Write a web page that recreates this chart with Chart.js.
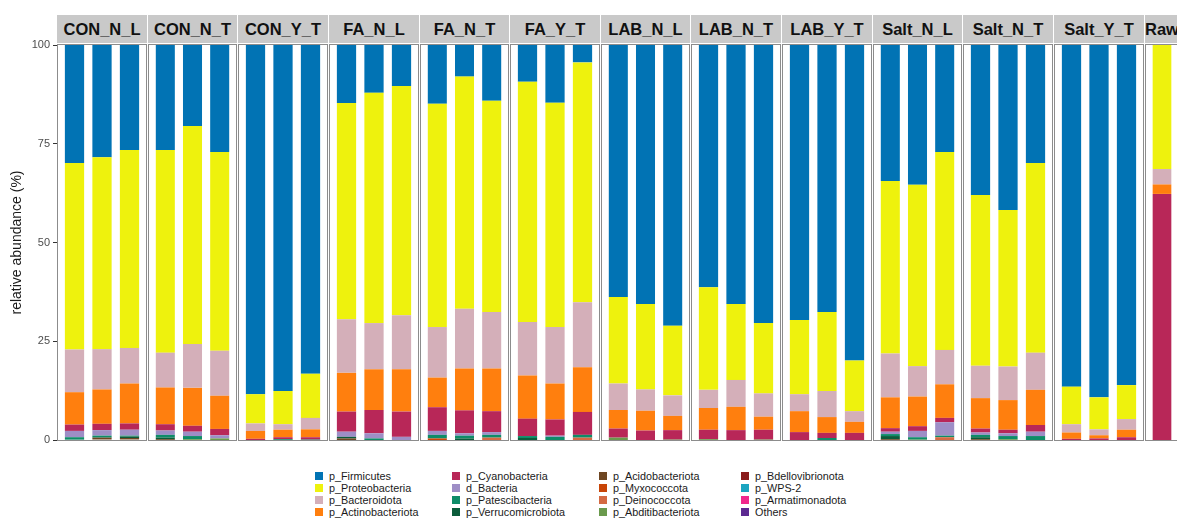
<!DOCTYPE html>
<html>
<head>
<meta charset="utf-8">
<script src="https://cdn.jsdelivr.net/npm/chart.js@4.4.1/dist/chart.umd.min.js"></script>
<style>
  html, body { margin: 0; padding: 0; background: #ffffff; }
  body { width: 1177px; height: 521px; overflow: hidden; position: relative;
         font-family: "Liberation Sans", Arial, Helvetica, sans-serif; }
  canvas { position: absolute; }
  .panel { position: absolute; box-sizing: border-box; border: 1px solid #8c8c8c; pointer-events: none; z-index: 2; }
  .strip { position: absolute; background: #c9c9c9; color: #111111; font-weight: bold;
           font-size: 16.5px; text-align: center; white-space: nowrap; overflow: visible;
           display: flex; align-items: center; justify-content: center; }
  .key { position: absolute; width: 8px; height: 8px; }
  .ktxt { position: absolute; font-size: 10.8px; color: #1a1a1a; white-space: nowrap; line-height: 12px; }
</style>
</head>
<body>
<script>
// Facets and samples, in plotting order
const facets = ["CON_N_L", "CON_N_T", "CON_Y_T", "FA_N_L", "FA_N_T", "FA_Y_T",
                "LAB_N_L", "LAB_N_T", "LAB_Y_T", "Salt_N_L", "Salt_N_T", "Salt_Y_T", "Raw"];
const samples = [
  "CON_N_L_1", "CON_N_L_2", "CON_N_L_3", "CON_N_T_1", "CON_N_T_2", "CON_N_T_3",
  "CON_Y_T_1", "CON_Y_T_2", "CON_Y_T_3", "FA_N_L_1", "FA_N_L_2", "FA_N_L_3",
  "FA_N_T_1", "FA_N_T_2", "FA_N_T_3", "FA_Y_T_1", "FA_Y_T_2", "FA_Y_T_3",
  "LAB_N_L_1", "LAB_N_L_2", "LAB_N_L_3", "LAB_N_T_1", "LAB_N_T_2", "LAB_N_T_3",
  "LAB_Y_T_1", "LAB_Y_T_2", "LAB_Y_T_3", "Salt_N_L_1", "Salt_N_L_2", "Salt_N_L_3",
  "Salt_N_T_1", "Salt_N_T_2", "Salt_N_T_3", "Salt_Y_T_1", "Salt_Y_T_2", "Salt_Y_T_3",
  "Raw_1"
];

// Relative abundance (%) per phylum, one value per sample
const firmicutes = [29.9, 28.4, 26.6, 26.6, 20.5, 27.1, 88.4, 87.6, 83.2, 14.7, 12.1, 10.4,
  14.9, 8.0, 14.1, 9.3, 14.6, 4.4, 63.8, 65.6, 71.1, 61.3, 65.6, 70.4, 69.6, 67.6, 79.9,
  34.4, 35.4, 27.1, 38.0, 41.8, 29.9, 86.5, 89.2, 86.1, 0];
const proteobacteria = [47.2, 48.6, 50.1, 51.3, 55.2, 50.3, 7.4, 8.4, 11.2, 54.7, 58.3, 58.0,
  56.5, 58.8, 53.5, 60.8, 56.8, 60.7, 21.9, 21.6, 17.6, 26.0, 19.2, 17.8, 18.8, 20.0, 12.8,
  43.7, 45.9, 50.1, 43.2, 39.6, 48.0, 9.5, 8.1, 8.6, 31.4];
const bacteroidota = [10.8, 10.2, 9.0, 8.8, 11.1, 11.4, 1.9, 1.4, 2.9, 13.6, 11.7, 13.7,
  12.8, 15.1, 14.3, 13.6, 14.3, 16.5, 6.7, 5.4, 5.2, 4.6, 6.8, 5.9, 4.3, 6.6, 2.7,
  11.1, 7.7, 8.7, 8.2, 8.5, 9.4, 2.1, 1.5, 2.7, 3.9];
const actinobacteriota = [8.2, 8.7, 10.1, 9.3, 9.6, 8.4, 2.0, 1.9, 2.0, 9.8, 10.3, 10.7,
  7.5, 10.6, 10.8, 10.9, 9.1, 11.3, 4.7, 5.0, 3.6, 5.5, 5.9, 3.3, 5.3, 4.0, 2.8,
  7.8, 7.5, 8.5, 7.7, 7.5, 8.9, 1.6, 0.8, 1.9, 2.4];
const cyanobacteria = [1.6, 1.6, 1.6, 1.6, 1.5, 1.6, 0.3, 0.5, 0.6, 5.1, 5.9, 6.4,
  6.0, 5.8, 5.3, 4.4, 4.1, 5.8, 2.3, 2.4, 2.4, 2.4, 2.5, 2.5, 2.0, 1.3, 1.8,
  0.9, 1.2, 1.1, 1.0, 0.9, 1.7, 0.3, 0.4, 0.7, 62.3];
const dBacteria = [1.6, 1.4, 1.5, 1.1, 1.1, 0.8, 0, 0, 0, 1.3, 1.3, 0.8,
  1.0, 0.6, 0.7, 0, 0.3, 0, 0, 0, 0, 0, 0, 0, 0, 0, 0,
  0.6, 1.6, 3.4, 0.6, 0.7, 1.1, 0, 0, 0, 0];
const patescibacteria = [0.6, 0.5, 0.2, 0.7, 0.8, 0, 0, 0.2, 0.1, 0, 0.4, 0,
  0.9, 0.7, 0.7, 0.5, 0.8, 0.7, 0, 0, 0, 0, 0, 0, 0, 0.5, 0,
  0.5, 0.6, 0.4, 0.6, 0.8, 1.0, 0, 0, 0, 0];
const verrucomicrobiota = [0.1, 0, 0.4, 0.4, 0, 0, 0, 0, 0, 0.4, 0, 0,
  0, 0.4, 0, 0.5, 0, 0, 0, 0, 0, 0, 0, 0, 0, 0, 0,
  0.8, 0, 0, 0.5, 0, 0, 0, 0, 0, 0];
const acidobacteriota = [0, 0.6, 0.5, 0.2, 0, 0, 0, 0, 0, 0.4, 0, 0,
  0, 0, 0, 0, 0, 0, 0, 0, 0, 0, 0, 0, 0, 0, 0,
  0.2, 0, 0, 0.2, 0, 0, 0, 0, 0, 0];
const myxococcota = [0, 0, 0, 0, 0, 0, 0, 0, 0, 0, 0, 0,
  0.4, 0, 0, 0, 0, 0, 0, 0, 0, 0, 0, 0, 0, 0, 0,
  0, 0, 0, 0, 0, 0, 0, 0, 0, 0];
const deinococcota = [0, 0, 0, 0, 0, 0, 0, 0, 0, 0, 0, 0,
  0, 0, 0.6, 0, 0, 0.6, 0, 0, 0, 0, 0, 0, 0, 0, 0,
  0, 0, 0.7, 0, 0, 0, 0, 0, 0, 0];
const abditibacteriota = [0, 0, 0, 0, 0.2, 0.4, 0, 0, 0, 0, 0, 0,
  0, 0, 0, 0, 0, 0, 0.6, 0, 0.1, 0.2, 0, 0.1, 0, 0, 0,
  0, 0.1, 0, 0, 0.2, 0, 0, 0, 0, 0];
const bdellovibrionota = [0, 0, 0, 0, 0, 0, 0, 0, 0, 0, 0, 0,
  0, 0, 0, 0, 0, 0, 0, 0, 0, 0, 0, 0, 0, 0, 0,
  0, 0, 0, 0, 0, 0, 0, 0, 0, 0];
const wps2 = [0, 0, 0, 0, 0, 0, 0, 0, 0, 0, 0, 0,
  0, 0, 0, 0, 0, 0, 0, 0, 0, 0, 0, 0, 0, 0, 0,
  0, 0, 0, 0, 0, 0, 0, 0, 0, 0];
const armatimonadota = [0, 0, 0, 0, 0, 0, 0, 0, 0, 0, 0, 0,
  0, 0, 0, 0, 0, 0, 0, 0, 0, 0, 0, 0, 0, 0, 0,
  0, 0, 0, 0, 0, 0, 0, 0, 0, 0];
const others = [0, 0, 0, 0, 0, 0, 0, 0, 0, 0, 0, 0,
  0, 0, 0, 0, 0, 0, 0, 0, 0, 0, 0, 0, 0, 0, 0,
  0, 0, 0, 0, 0, 0, 0, 0, 0, 0];

// Series in legend order (top of each stack first)
const seriesNames = ["p_Firmicutes", "p_Proteobacteria", "p_Bacteroidota", "p_Actinobacteriota",
  "p_Cyanobacteria", "d_Bacteria", "p_Patescibacteria", "p_Verrucomicrobiota",
  "p_Acidobacteriota", "p_Myxococcota", "p_Deinococcota", "p_Abditibacteriota",
  "p_Bdellovibrionota", "p_WPS-2", "p_Armatimonadota", "Others"];
const seriesValues = [firmicutes, proteobacteria, bacteroidota, actinobacteriota,
  cyanobacteria, dBacteria, patescibacteria, verrucomicrobiota,
  acidobacteriota, myxococcota, deinococcota, abditibacteriota,
  bdellovibrionota, wps2, armatimonadota, others];
const seriesColors = ["#0173B4", "#EEF20D", "#D4AFB9", "#FF7F0E",
  "#B82758", "#9E8EC6", "#0E8C68", "#0B5C3B",
  "#6E4622", "#C84507", "#D46A43", "#6A9A4D",
  "#8A1C1C", "#1BA5C0", "#F0288C", "#5C2A91"];
const yTicks = [0, 25, 50, 75, 100];

// ---- layout ----
const FONT = '"Liberation Sans", Arial, Helvetica, sans-serif';
const plotLeft = 58, plotRight = 1178.5, panelGap = 3;
const panelTop = 45, panelBottom = 440, padV = 10;
const expand = 0.6, barWidth = 0.7;

const facetSamples = facets.map(f => samples.map((s, i) => [s, i]).filter(([s]) => s.startsWith(f + "_")).map(([, i]) => i));
const totalUnits = facetSamples.reduce((a, idx) => a + idx.length - 1 + 2 * expand, 0);
const unit = (plotRight - plotLeft - panelGap * (facets.length - 1)) / totalUnits;

let cursor = plotLeft;
facets.forEach((facet, fi) => {
  const idx = facetSamples[fi];
  const n = idx.length;
  const span = n - 1 + 2 * expand;
  const x0 = Math.round(cursor);
  const x1 = Math.round(cursor + span * unit);
  cursor += span * unit + panelGap;
  const w = x1 - x0;
  const first = fi === 0;

  // strip label
  const strip = document.createElement('div');
  strip.className = 'strip';
  strip.textContent = facet;
  Object.assign(strip.style, { left: (x0 - 1) + 'px', top: '15px', width: (w + 2) + 'px', height: '28px' });
  document.body.appendChild(strip);

  // panel frame
  const frame = document.createElement('div');
  frame.className = 'panel';
  Object.assign(frame.style, { left: (x0 - 1) + 'px', top: (panelTop - 1) + 'px', width: (w + 2) + 'px', height: (panelBottom - panelTop + 2) + 'px' });
  document.body.appendChild(frame);

  // chart canvas (the first one also carries the y axis)
  const cv = document.createElement('canvas');
  const left = first ? 0 : x0;
  const cw = first ? x1 : w;
  const ch = panelBottom - panelTop + 2 * padV;
  cv.width = cw; cv.height = ch;
  Object.assign(cv.style, { left: left + 'px', top: (panelTop - padV) + 'px', width: cw + 'px', height: ch + 'px' });
  document.body.appendChild(cv);

  // stack from the bottom: last legend entry first
  const datasets = [];
  for (let s = seriesNames.length - 1; s >= 0; s--) {
    datasets.push({
      label: seriesNames[s],
      data: idx.map((i, k) => ({ x: k + 1, y: seriesValues[s][i] })),
      backgroundColor: seriesColors[s],
      borderWidth: 0,
      categoryPercentage: 1,
      barPercentage: n > 1 ? barWidth : barWidth / span
    });
  }

  const yAxis = {
    stacked: true, min: 0, max: 100, display: first,
    border: { display: false },
    grid: { drawOnChartArea: false, drawTicks: true, tickLength: 5, color: '#333333', lineWidth: 1 },
    afterBuildTicks: sc => { sc.ticks = yTicks.map(v => ({ value: v })); },
    ticks: { color: '#4d4d4d', padding: 3, font: { size: 11, family: FONT } },
    title: { display: true, text: 'relative abundance (%)', color: '#1a1a1a',
             font: { size: 14, family: FONT }, padding: { top: 9, bottom: 0 } }
  };
  if (first) yAxis.afterFit = sc => { sc.width = plotLeft; };

  new Chart(cv, {
    type: 'bar',
    data: { datasets },
    options: {
      responsive: false,
      animation: false,
      devicePixelRatio: 1,
      layout: { padding: { top: padV, bottom: padV, left: 0, right: 0 } },
      plugins: { legend: { display: false }, tooltip: { enabled: false } },
      scales: {
        x: {
          type: 'linear', stacked: true, display: false,
          bounds: 'data', offset: false, grace: 0,
          min: 1 - expand, max: n + expand,
          // one tick per sample slot
          afterBuildTicks: sc => { sc.ticks = idx.map((_, k) => ({ value: k + 1 })); }
        },
        y: yAxis
      }
    }
  });
});

// ---- legend (4 columns, filled column by column) ----
const colLeft = [315, 452, 599, 741];
const rowMid = [475.5, 487.8, 500.1, 512.4];
seriesNames.forEach((name, s) => {
  const c = Math.floor(s / 4), r = s % 4;
  const key = document.createElement('div');
  key.className = 'key';
  Object.assign(key.style, { left: colLeft[c] + 'px', top: (rowMid[r] - 4) + 'px', background: seriesColors[s] });
  document.body.appendChild(key);
  const t = document.createElement('div');
  t.className = 'ktxt';
  t.textContent = name;
  Object.assign(t.style, { left: (colLeft[c] + 14) + 'px', top: (rowMid[r] - 6) + 'px' });
  document.body.appendChild(t);
});
</script>
</body>
</html>
